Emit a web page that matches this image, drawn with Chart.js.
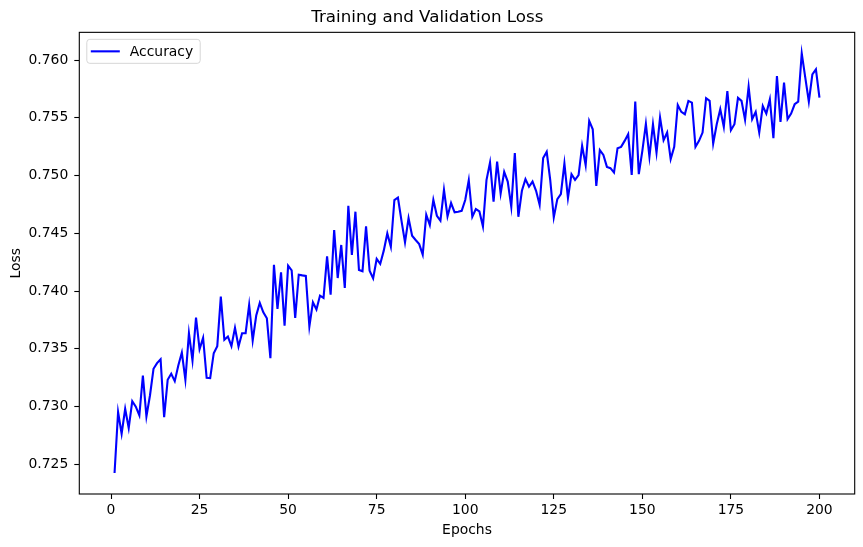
<!DOCTYPE html>
<html>
<head>
<meta charset="utf-8">
<script src="https://cdn.jsdelivr.net/npm/chart.js@4.4.1/dist/chart.umd.min.js"></script>
<style>
  html, body { margin: 0; padding: 0; background: #fff; }
  #wrap { width: 863px; height: 547px; }
</style>
</head>
<body>
<div id="wrap"><canvas id="plot" width="863" height="547"></canvas></div>
<script>
// Values
const LOSS = [
  0.72425, 0.72952, 0.72765, 0.72981, 0.72814, 0.73047, 0.72999, 0.72924, 0.73269, 0.72915,
  0.73096, 0.73327, 0.73376, 0.73410, 0.72909, 0.73232, 0.73284, 0.73220, 0.73356, 0.73468,
  0.73232, 0.73635, 0.73399, 0.73770, 0.73497, 0.73595, 0.73249, 0.73246, 0.73462, 0.73523,
  0.73952, 0.73578, 0.73606, 0.73523, 0.73681, 0.73520, 0.73635, 0.73635, 0.73880, 0.73572,
  0.73788, 0.73897, 0.73816, 0.73764, 0.73419, 0.74228, 0.73846, 0.74162, 0.73701, 0.74220,
  0.74180, 0.73768, 0.74142, 0.74136, 0.74131, 0.73693, 0.73903, 0.73840, 0.73961, 0.73941,
  0.74300, 0.73969, 0.74528, 0.74113, 0.74399, 0.74027, 0.74738, 0.74312, 0.74687, 0.74183,
  0.74171, 0.74560, 0.74177, 0.74110, 0.74278, 0.74235, 0.74350, 0.74499, 0.74384, 0.74788,
  0.74810, 0.74609, 0.74421, 0.74632, 0.74479, 0.74442, 0.74407, 0.74315, 0.74661, 0.74572,
  0.74790, 0.74652, 0.74609, 0.74877, 0.74646, 0.74762, 0.74681, 0.74687, 0.74695, 0.74788,
  0.74960, 0.74643, 0.74710, 0.74689, 0.74560, 0.74960, 0.75113, 0.74773, 0.75121, 0.74845,
  0.75032, 0.74948, 0.74730, 0.75194, 0.74643, 0.74868, 0.74969, 0.74903, 0.74948, 0.74868,
  0.74747, 0.75151, 0.75205, 0.74960, 0.74637, 0.74796, 0.74839, 0.75104, 0.74805, 0.75012,
  0.74963, 0.75003, 0.75257, 0.75090, 0.75473, 0.75401, 0.74911, 0.75220, 0.75179, 0.75075,
  0.75064, 0.75026, 0.75237, 0.75248, 0.75300, 0.75358, 0.75006, 0.75640, 0.75012, 0.75214,
  0.75447, 0.75162, 0.75444, 0.75199, 0.75502, 0.75306, 0.75372, 0.75142, 0.75248, 0.75611,
  0.75551, 0.75531, 0.75646, 0.75631, 0.75248, 0.75300, 0.75372, 0.75669, 0.75646, 0.75277,
  0.75444, 0.75574, 0.75421, 0.75732, 0.75392, 0.75444, 0.75672, 0.75646, 0.75482, 0.75769,
  0.75488, 0.75551, 0.75372, 0.75602, 0.75536, 0.75660, 0.75323, 0.75862, 0.75464, 0.75804,
  0.75488, 0.75536, 0.75617, 0.75640, 0.76058, 0.75847, 0.75640, 0.75876, 0.75919, 0.75675
];
// one epoch per recorded value
const EPOCHS = LOSS.map((_, i) => i + 1);

const X_TICKS = [0, 25, 50, 75, 100, 125, 150, 175, 200];
const Y_TICKS = [0.725, 0.730, 0.735, 0.740, 0.745, 0.750, 0.755, 0.760];

const SERIES_LABEL = 'Accuracy';
const TITLE = 'Training and Validation Loss';
const X_LABEL = 'Epochs';
const Y_LABEL = 'Loss';

const FONT = "'DejaVu Sans', sans-serif";

// matplotlib-like 5% margins around the data
const xSpan = EPOCHS[EPOCHS.length - 1] - EPOCHS[0];
const yLo = Math.min(...LOSS), yHi = Math.max(...LOSS);
const ySpan = yHi - yLo;

// frame round the axes + the legend box in the upper left
const framePlugin = {
    id: 'frame',
    afterDatasetsDraw(chart) {
        const ctx = chart.ctx;
        const a = chart.chartArea;
        ctx.save();
        ctx.strokeStyle = '#000';
        ctx.lineWidth = 1.1;
        ctx.strokeRect(a.left, a.top, a.right - a.left, a.bottom - a.top);

        // legend
        const ds = chart.data.datasets[0];
        ctx.font = '13.9px ' + FONT;
        const tw = ctx.measureText(ds.label).width;
        const bx = a.left + 7.5, by = a.top + 7;
        const bw = 43 + tw + 7, bh = 24;
        ctx.beginPath();
        ctx.roundRect(bx, by, bw, bh, 3);
        ctx.fillStyle = 'rgba(255,255,255,0.8)';
        ctx.fill();
        ctx.strokeStyle = '#d6d6d6';
        ctx.lineWidth = 1;
        ctx.stroke();
        ctx.beginPath();
        ctx.moveTo(bx + 4, by + bh / 2);
        ctx.lineTo(bx + 33, by + bh / 2);
        ctx.strokeStyle = ds.borderColor;
        ctx.lineWidth = 2.1;
        ctx.stroke();
        ctx.fillStyle = '#000';
        ctx.textBaseline = 'middle';
        ctx.fillText(ds.label, bx + 43, by + bh / 2 + 1);
        ctx.restore();
    }
};

new Chart(document.getElementById('plot'), {
    type: 'line',
    data: {
        labels: EPOCHS,
        datasets: [{
            label: SERIES_LABEL,
            data: EPOCHS.map((e, i) => ({x: e, y: LOSS[i]})),
            borderColor: '#0000ff',
            borderWidth: 2.1,
            pointRadius: 0,
            fill: false,
            tension: 0
        }]
    },
    options: {
        responsive: false,
        animation: false,
        devicePixelRatio: 1,
        layout: {
            padding: {left: 0, right: 8.3, top: 0, bottom: 0}
        },
        plugins: {
            legend: {display: false},
            tooltip: {enabled: false},
            title: {
                display: true,
                text: TITLE,
                color: '#000',
                font: {family: FONT, size: 16.7, weight: 'normal', lineHeight: 1.2},
                padding: {top: 8, bottom: 4.3}
            }
        },
        scales: {
            x: {
                type: 'linear',
                min: EPOCHS[0] - xSpan * 0.05,
                max: EPOCHS[EPOCHS.length - 1] + xSpan * 0.05,
                afterFit(s) { s.height = 53; },
                afterBuildTicks(s) { s.ticks = X_TICKS.map(v => ({value: v})); },
                grid: {display: true, drawOnChartArea: false, drawTicks: true, tickLength: 5, tickColor: '#000', tickWidth: 1.1},
                border: {display: false},
                ticks: {
                    color: '#000',
                    font: {family: FONT, size: 13.9},
                    padding: 3,
                    maxRotation: 0,
                    callback: v => String(v)
                },
                title: {
                    display: true,
                    text: X_LABEL,
                    color: '#000',
                    font: {family: FONT, size: 13.9},
                    padding: {top: 0, bottom: 8.7}
                }
            },
            y: {
                min: yLo - ySpan * 0.05,
                max: yHi + ySpan * 0.05,
                afterFit(s) { s.width = 79.3; },
                afterBuildTicks(s) { s.ticks = Y_TICKS.map(v => ({value: v})); },
                grid: {display: true, drawOnChartArea: false, drawTicks: true, tickLength: 5, tickColor: '#000', tickWidth: 1.1},
                border: {display: false},
                ticks: {
                    color: '#000',
                    font: {family: FONT, size: 13.9},
                    padding: 6,
                    callback: v => v.toFixed(3)
                },
                title: {
                    display: true,
                    text: Y_LABEL,
                    color: '#000',
                    font: {family: FONT, size: 13.9},
                    padding: {top: 7.7, bottom: 0}
                }
            }
        }
    },
    plugins: [framePlugin]
});
</script>
</body>
</html>
